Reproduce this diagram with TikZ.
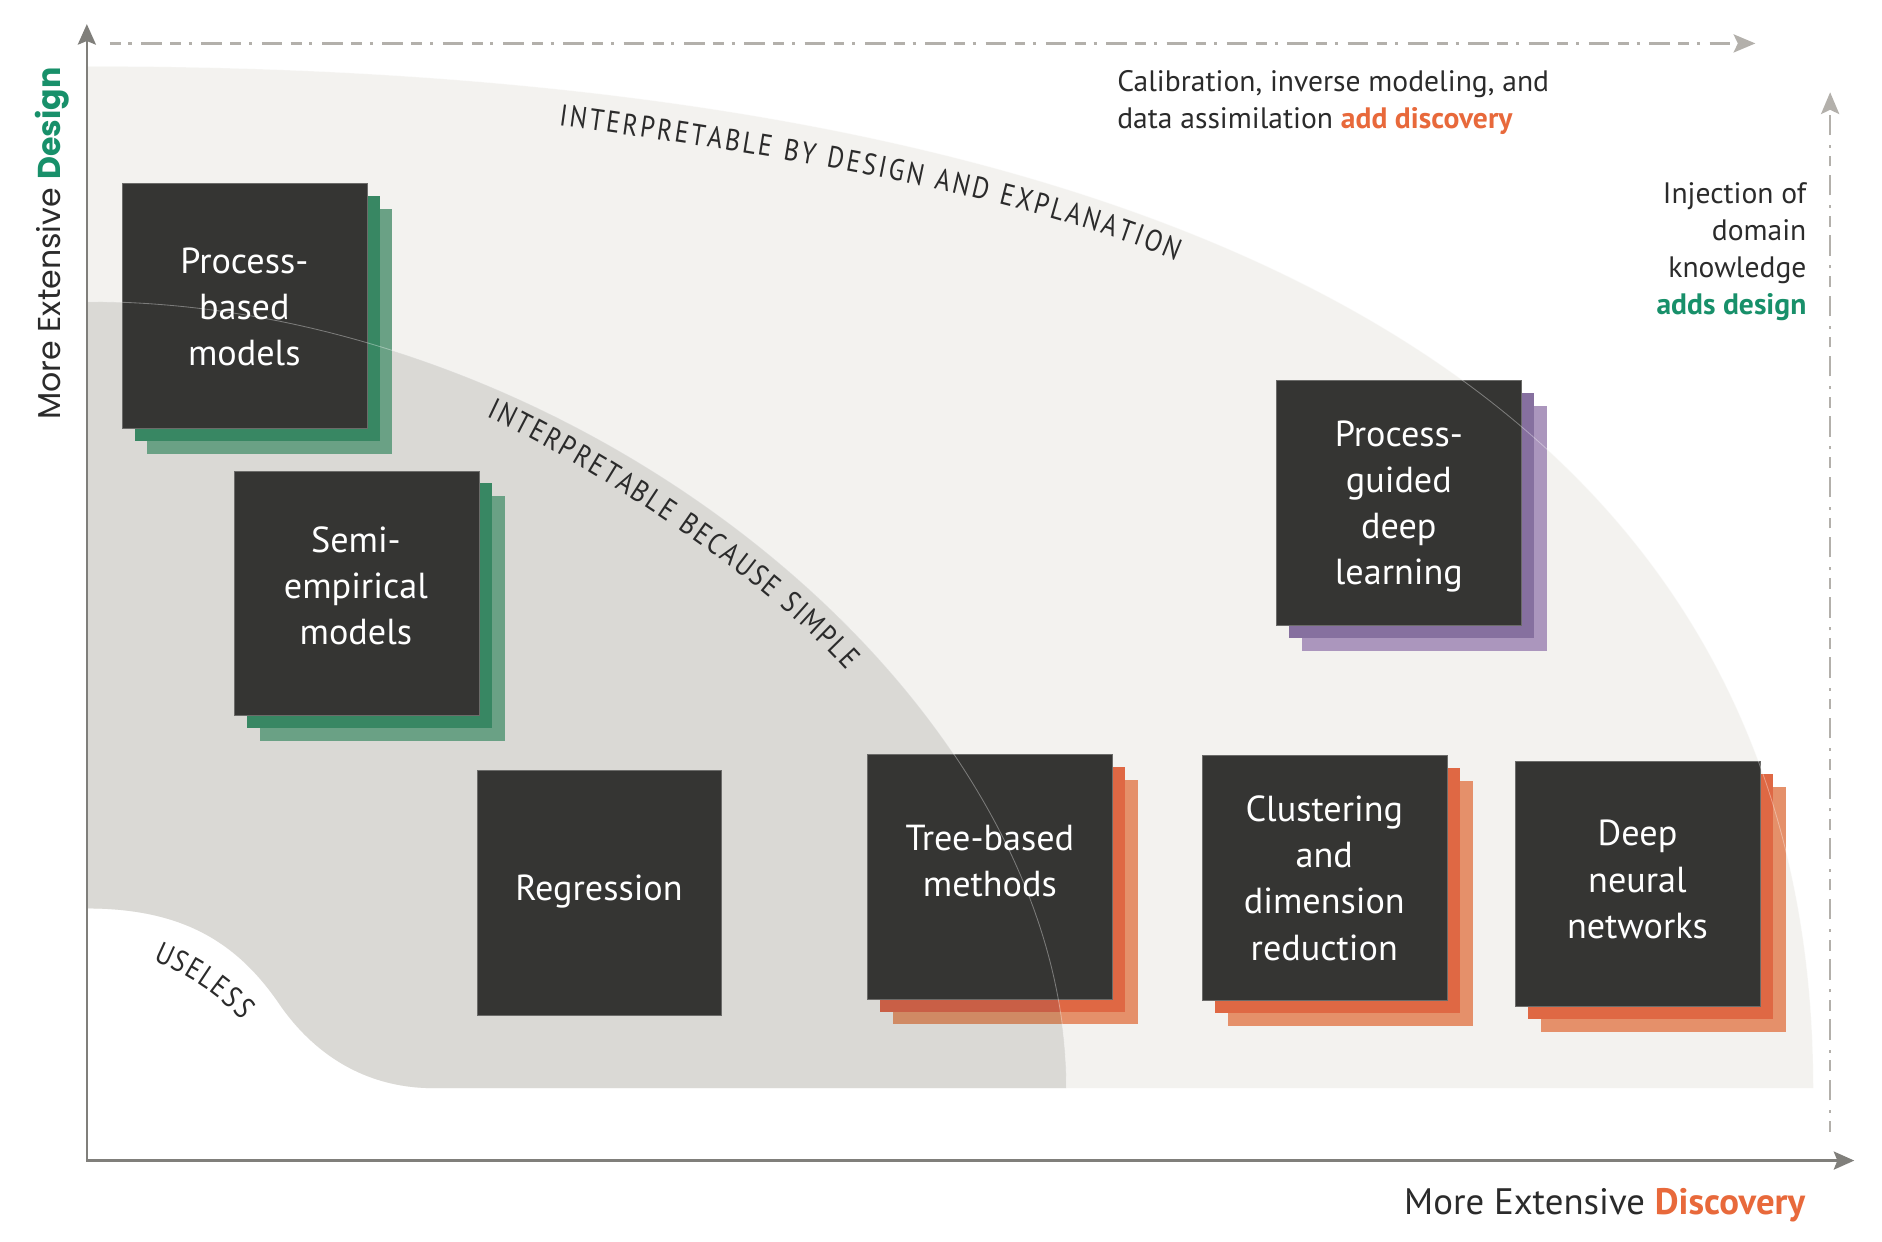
\documentclass[tikz,border=0pt]{standalone}
\usepackage{fontspec}
\setmainfont{PT Sans}
\newfontfamily\arcfont[FakeStretch=0.85]{PT Sans}
\newfontfamily\popfont{Poppins}
\usetikzlibrary{arrows.meta,decorations.text}
\definecolor{outerc}{HTML}{F3F2EF}
\definecolor{midc}{HTML}{DAD9D5}
\definecolor{boxc}{HTML}{353533}
\definecolor{boxedge}{HTML}{6B6B69}
\definecolor{gA}{HTML}{388763}
\definecolor{gB}{HTML}{6AA185}
\definecolor{oA}{HTML}{DF6844}
\definecolor{oB}{HTML}{E5906A}
\definecolor{oAd}{HTML}{C95F46}
\definecolor{oBd}{HTML}{D08A64}
\definecolor{pA}{HTML}{86709F}
\definecolor{pB}{HTML}{AB96BD}
\definecolor{axisc}{HTML}{807F7B}
\definecolor{dashc}{HTML}{B3B0AB}
\definecolor{txt}{HTML}{2B2B2B}
\definecolor{greenT}{HTML}{18906A}
\definecolor{orangeT}{HTML}{E8693B}
\tikzset{
  methodbox/.style={fill=boxc, draw=boxedge, line width=0.8pt, minimum width=203pt, minimum height=203pt, inner sep=0pt, anchor=north west},
  layer/.style={minimum width=203pt, minimum height=203pt, inner sep=0pt, anchor=north west, draw=none},
  boxtext/.style={text=white, font=\fontsize{30}{38.2}\selectfont, align=center, inner sep=0pt},
  sidetext/.style={text=txt, font=\fontsize{24.5}{30.5}\selectfont, inner sep=0pt},
  axisline/.style={draw=axisc, line width=2pt, {Stealth[length=17pt,width=15pt,inset=3pt]}-{Stealth[length=17pt,width=15pt,inset=3pt]}},
  dashline/.style={draw=dashc, line width=2.2pt, dash pattern=on 9pt off 6.5pt on 2.5pt off 8pt on 17pt off 7pt, -{Stealth[length=18pt,width=15pt,inset=3.5pt]}},
  seam/.style={draw=white, opacity=0.35, line width=0.7pt},
  midpath/.style={insert path={(72,250) .. controls (478,250) and (884,576) .. (884,902) -- (360,902) .. controls (290,902) and (250,860) .. (230,830) .. controls (195,780) and (150,753) .. (72,753) -- cycle}},
  outerpath/.style={insert path={(72,55) .. controls (1016,55) and (1503,343) .. (1503,902) -- (360,902) .. controls (290,902) and (250,860) .. (230,830) .. controls (195,780) and (150,753) .. (72,753) -- cycle}}
}
\begin{document}
\begin{tikzpicture}[x=1pt,y=-1pt]
\useasboundingbox (0,0) rectangle (1560,1029.5);
\fill[white] (0,0) rectangle (1560,1029.5);
% regions
\fill[outerc, outerpath];
\fill[midc, midpath];
% shadow layers
\node[layer, fill=gB] (pb-l2) at (122,173) {};
\node[layer, fill=gA] (pb-l1) at (111.5,162.5) {};
\node[layer, fill=gB] (se-l2) at (215,411) {};
\node[layer, fill=gA] (se-l1) at (204.5,400.5) {};
\node[layer, fill=oB] (tb-l2) at (740,646) {};
\node[layer, fill=oA] (tb-l1) at (729.5,635.5) {};
\node[layer, fill=oB] (cl-l2) at (1017.5,647) {};
\node[layer, fill=oA] (cl-l1) at (1007,636.5) {};
\node[layer, fill=oB] (dn-l2) at (1277,652) {};
\node[layer, fill=oA] (dn-l1) at (1266.5,641.5) {};
\node[layer, fill=pB] (pg-l2) at (1079,336) {};
\node[layer, fill=pA] (pg-l1) at (1068.5,325.5) {};
\begin{scope}
  \clip[midpath];
  \node[layer, fill=oBd] (tb-l2d) at (740,646) {};
  \node[layer, fill=oAd] (tb-l1d) at (729.5,635.5) {};
\end{scope}
% main boxes
\node[methodbox] (pb) at (101,152) {};
\node[methodbox] (se) at (194,390) {};
\node[methodbox] (reg) at (395,638) {};
\node[methodbox] (tb) at (719,625) {};
\node[methodbox] (cl) at (996.5,626) {};
\node[methodbox] (dn) at (1256,631) {};
\node[methodbox] (pg) at (1058,315) {};
% seams of the regions over the boxes
\draw[seam] (72,250) .. controls (478,250) and (884,576) .. (884,902);
\draw[seam] (72,55) .. controls (1016,55) and (1503,343) .. (1503,902);
% box texts
\node[boxtext] (t-pb) at (202.5,254.3) {Process-\\based\\models};
\node[boxtext] (t-se) at (295,485.4) {Semi-\\empirical\\models};
\node[boxtext, anchor=base] (t-reg) at (496.5,746.6) {Regression};
\node[boxtext] (t-tb) at (820.5,713.75) {Tree-based\\methods};
\node[boxtext] (t-cl) at (1097.7,728) {Clustering\\and\\dimension\\reduction};
\node[boxtext] (t-dn) at (1357.3,729) {Deep\\neural\\networks};
\node[boxtext] (t-pg) at (1159.5,420.1) {Process-\\guided\\deep\\learning};
% curved labels
\path[decorate, decoration={text along path, text align=fit to path,
  text={|\arcfont\fontsize{25}{25}\selectfont\color{txt}|INTERPRETABLE BY DESIGN AND EXPLANATION}}]
  (463,104) .. controls (640,128) and (840,160) .. (975,216);
\path[decorate, decoration={text along path, text align=fit to path,
  text={|\arcfont\fontsize{25}{25}\selectfont\color{txt}|INTERPRETABLE BECAUSE SIMPLE}}]
  (403,345) .. controls (482,382) and (624,470) .. (702,556);
\path[decorate, decoration={text along path, text align=fit to path,
  text={|\arcfont\fontsize{25}{25}\selectfont\color{txt}|USELESS}}]
  (127,796) .. controls (150,806) and (180,822) .. (200,846);
% axes
\coordinate (O) at (72,962);
\coordinate (ytip) at (72,20);
\coordinate (xtip) at (1537,962);
\draw[axisline] (ytip) -- (O) -- (xtip);
\coordinate (ta) at (91,36);
\coordinate (tb-end) at (1455,36);
\draw[dashline] (ta) -- (tb-end);
\coordinate (ra) at (1517,938);
\coordinate (rb) at (1517,76.5);
\draw[dashline] (ra) -- (rb);
% side texts
\node[sidetext, anchor=west, align=left] (calib) at (925.9,85.15)
  {Calibration, inverse modeling, and\\data assimilation {\bfseries\color{orangeT}add discovery}};
\node[sidetext, anchor=east, align=right] (inject) at (1497.5,208.7)
  {Injection of\\domain\\knowledge\\{\bfseries\color{greenT}adds design}};
\node[text=txt, font=\fontsize{30.5}{31}\selectfont, inner sep=0pt, anchor=base east] (xlabel) at (1496.5,1007)
  {More Extensive {\bfseries\color{orangeT}Discovery}};
\node[text=txt, font=\popfont\fontsize{26.2}{30}\selectfont, inner sep=0pt, anchor=base west, rotate=90] (ylabel) at (50,348)
  {More Extensive {\bfseries\color{greenT}Design}};
\end{tikzpicture}
\end{document}
